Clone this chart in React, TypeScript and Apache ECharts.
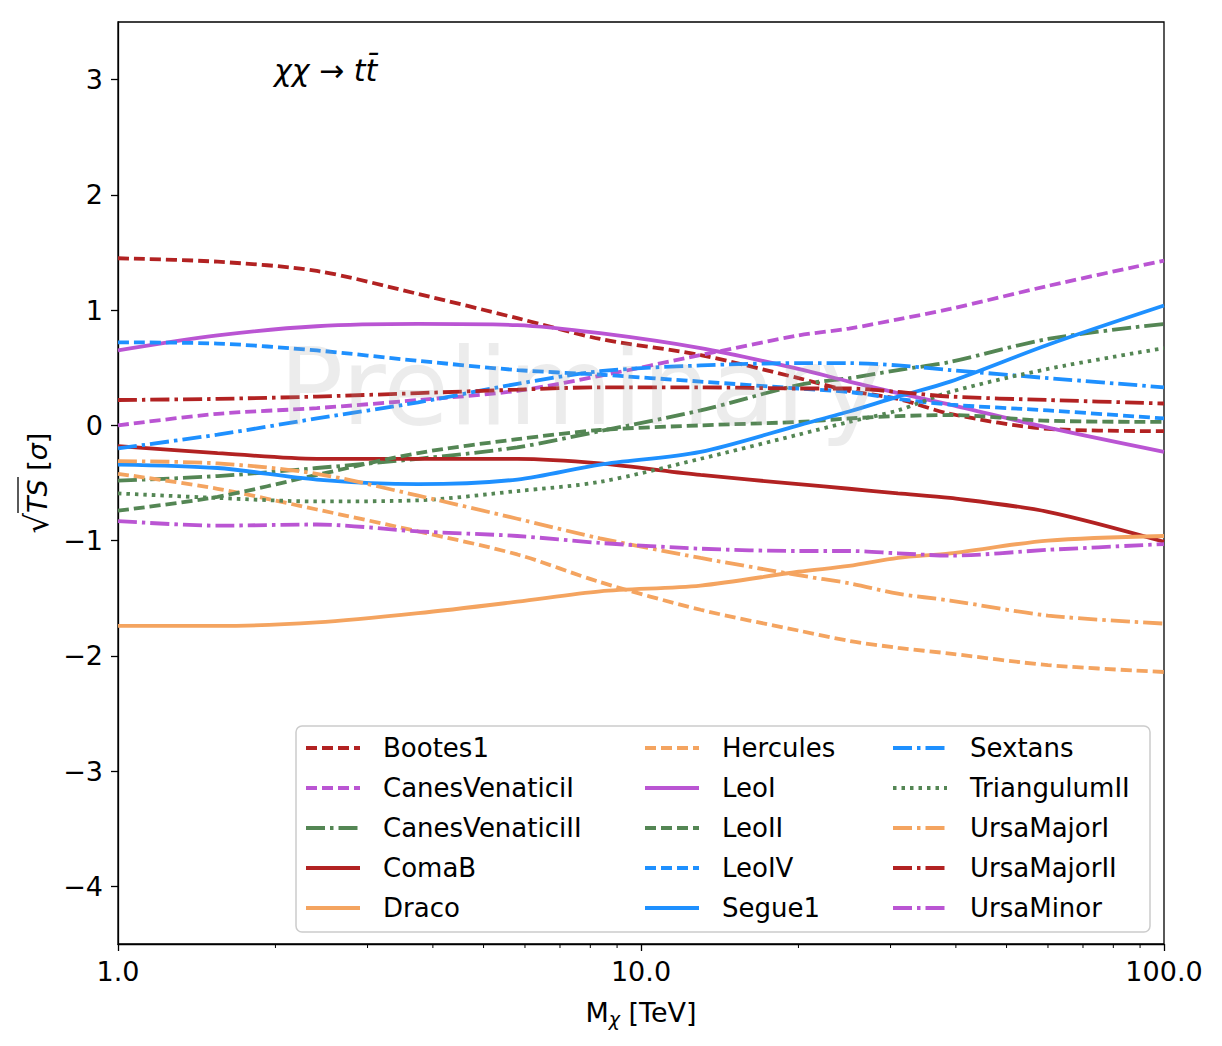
import React, { useEffect, useRef } from "react";
import * as echarts from "echarts";

const MASSES = [1, 1.55, 2.4, 3.75, 5.8, 8.35, 13, 20, 25, 31, 39, 60, 100];

const bootes1 = [1.45, 1.42, 1.34, 1.14, 0.93, 0.75, 0.61, 0.41, 0.3, 0.23, 0.1, -0.03, -0.05];
const canesVenaticiI = [0.0, 0.1, 0.15, 0.22, 0.3, 0.43, 0.61, 0.78, 0.84, 0.92, 1.01, 1.21, 1.43];
const canesVenaticiII = [-0.48, -0.44, -0.37, -0.29, -0.19, -0.05, 0.13, 0.35, 0.41, 0.48, 0.55, 0.75, 0.88];
const comaB = [-0.18, -0.24, -0.29, -0.29, -0.29, -0.33, -0.43, -0.51, -0.55, -0.59, -0.63, -0.75, -1.01];
const draco = [-1.74, -1.74, -1.71, -1.63, -1.53, -1.44, -1.39, -1.27, -1.22, -1.15, -1.11, -1.0, -0.96];
const hercules = [-0.42, -0.55, -0.73, -0.92, -1.12, -1.36, -1.6, -1.78, -1.87, -1.93, -1.98, -2.08, -2.14];
const leoI = [0.65, 0.78, 0.86, 0.88, 0.87, 0.8, 0.67, 0.49, 0.38, 0.28, 0.18, -0.02, -0.23];
const leoII = [-0.74, -0.62, -0.43, -0.24, -0.12, -0.04, 0.0, 0.03, 0.06, 0.08, 0.09, 0.04, 0.03];
const leoIV = [0.72, 0.71, 0.65, 0.56, 0.48, 0.44, 0.38, 0.32, 0.29, 0.23, 0.18, 0.13, 0.06];
const segue1 = [-0.34, -0.37, -0.47, -0.51, -0.47, -0.34, -0.23, 0.0, 0.12, 0.25, 0.38, 0.7, 1.04];
const sextans = [-0.2, -0.08, 0.06, 0.2, 0.36, 0.47, 0.52, 0.54, 0.54, 0.52, 0.48, 0.41, 0.33];
const triangulumII = [-0.59, -0.63, -0.66, -0.65, -0.57, -0.49, -0.29, -0.08, 0.03, 0.13, 0.29, 0.49, 0.67];
const ursaMajorI = [-0.31, -0.33, -0.42, -0.61, -0.81, -0.98, -1.15, -1.3, -1.37, -1.46, -1.52, -1.65, -1.72];
const ursaMajorII = [0.22, 0.23, 0.25, 0.28, 0.31, 0.33, 0.33, 0.32, 0.32, 0.29, 0.25, 0.22, 0.19];
const ursaMinor = [-0.83, -0.87, -0.86, -0.92, -0.96, -1.02, -1.07, -1.09, -1.09, -1.11, -1.13, -1.08, -1.03];

const MINOR_TICKS = [2, 3, 4, 5, 6, 7, 8, 9, 20, 30, 40, 50, 60, 70, 80, 90];

const RED = "#B22222";
const PURPLE = "#BA55D3";
const GREEN = "#548654";
const ORANGE = "#F4A460";
const BLUE = "#1E90FF";

const DASHED = [11, 5];
const DASHDOT = [19, 5, 3.5, 5];
const DOTTED = [3.5, 5];

const SERIES_DEFS: [string, number[], string, any][] = [
  ["Bootes1", bootes1, RED, DASHED],
  ["CanesVenaticiI", canesVenaticiI, PURPLE, DASHED],
  ["CanesVenaticiII", canesVenaticiII, GREEN, DASHDOT],
  ["ComaB", comaB, RED, "solid"],
  ["Draco", draco, ORANGE, "solid"],
  ["Hercules", hercules, ORANGE, DASHED],
  ["LeoI", leoI, PURPLE, "solid"],
  ["LeoII", leoII, GREEN, DASHED],
  ["LeoIV", leoIV, BLUE, DASHED],
  ["Segue1", segue1, BLUE, "solid"],
  ["Sextans", sextans, BLUE, DASHDOT],
  ["TriangulumII", triangulumII, GREEN, DOTTED],
  ["UrsaMajorI", ursaMajorI, ORANGE, DASHDOT],
  ["UrsaMajorII", ursaMajorII, RED, DASHDOT],
  ["UrsaMinor", ursaMinor, PURPLE, DASHDOT],
];

const FONT = "DejaVu Sans";
const LINE_W = 3.8;

// legend layout
const LEG_COLS = [306, 645, 893];
const LEG_TOP = 734;
const LEG_ROW = 40;

export default function App() {
  const ref = useRef<HTMLDivElement>(null);

  useEffect(() => {
    if (!ref.current) return;
    const chart = echarts.init(ref.current, null, { renderer: "svg" });

    const lineSeries = SERIES_DEFS.map(([name, vals, color, type]) => ({
      name,
      type: "line",
      data: MASSES.map((m, i) => [m, vals[i]]),
      showSymbol: false,
      symbol: "none",
      smooth: 0.3,
      z: 2,
      lineStyle: { color, width: LINE_W, type, cap: "butt" },
      itemStyle: { color },
      emphasis: { disabled: true },
    }));

    const legendNames = SERIES_DEFS.map((d) => d[0]);
    const mkLegend = (names: string[], left: number) => ({
      orient: "vertical",
      left,
      top: LEG_TOP,
      padding: 0,
      itemGap: 12,
      itemWidth: 54,
      itemHeight: 14,
      selectedMode: false,
      icon: "rect",
      itemStyle: { opacity: 0 },
      lineStyle: { opacity: 0 },
      data: names,
      textStyle: {
        fontFamily: FONT,
        fontSize: 26,
        color: "#000",
        lineHeight: 28,
        padding: [0, 0, 0, 18],
      },
    });

    // legend icon samples (decoration drawn over the invisible legend icons)
    const legendIcons = SERIES_DEFS.map(([, , color, type], i) => {
      const col = Math.floor(i / 5);
      const row = i % 5;
      const y = LEG_TOP + 14 + row * LEG_ROW;
      const x = LEG_COLS[col];
      return {
        type: "line",
        z: 10,
        silent: true,
        shape: { x1: x, y1: y, x2: x + 54, y2: y },
        style: {
          stroke: color,
          lineWidth: LINE_W,
          lineDash: type === "solid" ? null : type,
          lineCap: "butt",
        },
      };
    });

    const option: any = {
      animation: false,
      backgroundColor: "#fff",
      grid: {
        left: 118,
        right: 58,
        top: 22,
        bottom: 102,
        show: true,
        borderColor: "#000",
        borderWidth: 1.3,
        backgroundColor: "transparent",
      },
      xAxis: {
        type: "log",
        logBase: 10,
        min: 1,
        max: 100,
        axisLine: { show: true, onZero: false, lineStyle: { color: "#000", width: 1.3 } },
        axisTick: { show: true, length: 7, lineStyle: { color: "#000", width: 1.3 } },
        minorTick: { show: false },
        splitLine: { show: false },
        axisLabel: {
          fontFamily: FONT,
          fontSize: 27,
          color: "#000",
          margin: 14,
          formatter: (v: number) => v.toFixed(1),
        },
        name: "M{sub|χ} [TeV]",
        nameLocation: "middle",
        nameGap: 53,
        nameTextStyle: {
          fontFamily: FONT,
          fontSize: 27,
          color: "#000",
          rich: {
            sub: { fontFamily: FONT, fontSize: 19, fontStyle: "italic", color: "#000", padding: [12, 0, 0, 0] },
          },
        },
      },
      yAxis: {
        type: "value",
        min: -4.5,
        max: 3.5,
        splitNumber: 8,
        axisLine: { show: true, onZero: false, lineStyle: { color: "#000", width: 1.3 } },
        axisTick: { show: true, length: 7, lineStyle: { color: "#000", width: 1.3 } },
        splitLine: { show: false },
        axisLabel: {
          fontFamily: FONT,
          fontSize: 27,
          color: "#000",
          margin: 15,
          showMinLabel: false,
          showMaxLabel: false,
          formatter: (v: number) => (v < 0 ? "\u2212" + Math.abs(v) : String(v)),
        },
      },
      legend: [
        mkLegend(legendNames.slice(0, 5), LEG_COLS[0]),
        mkLegend(legendNames.slice(5, 10), LEG_COLS[1]),
        mkLegend(legendNames.slice(10, 15), LEG_COLS[2]),
      ],
      graphic: [
        {
          type: "rect",
          z: 3,
          shape: { x: 296, y: 726, width: 854, height: 206, r: 6 },
          style: { fill: "rgba(255,255,255,0.85)", stroke: "#cccccc", lineWidth: 1.5 },
        },
        ...legendIcons,
        {
          type: "text",
          z: 5,
          silent: true,
          x: 279,
          y: 333,
          style: {
            text: "Preliminary",
            fontFamily: FONT,
            fontSize: 107,
            fill: "rgba(160,160,160,0.2)",
            verticalAlign: "top",
            align: "left",
          },
        },
        {
          type: "text",
          z: 5,
          x: 274,
          y: 70,
          style: {
            text: "{i|χχ}{n| → }{i|tt̄}",
            verticalAlign: "middle",
            align: "left",
            rich: {
              i: { fontFamily: FONT, fontSize: 30, fontStyle: "italic", fill: "#000" },
              n: { fontFamily: FONT, fontSize: 30, fill: "#000" },
            },
          },
        },
        {
          type: "group",
          x: 37,
          y: 483,
          rotation: Math.PI / 2,
          children: [
            {
              type: "text",
              x: 0,
              y: 0,
              style: {
                text: "{r|√}{i|TS}{n| [}{i|σ}{n|]}",
                align: "center",
                verticalAlign: "middle",
                rich: {
                  r: { fontFamily: FONT, fontSize: 32, fill: "#000" },
                  i: { fontFamily: FONT, fontSize: 27, fontStyle: "italic", fill: "#000" },
                  n: { fontFamily: FONT, fontSize: 27, fill: "#000" },
                },
              },
            },
            {
              type: "line",
              shape: { x1: -30, y1: -19, x2: 6, y2: -19 },
              style: { stroke: "#000", lineWidth: 1.3 },
            },
          ],
        },
      ],
      series: [
        ...lineSeries,
        {
          type: "custom",
          name: "minorTicks",
          silent: true,
          clip: false,
          z: 6,
          data: MINOR_TICKS.map((m) => [m, -4.5]),
          encode: { x: 0, y: 1 },
          renderItem: (_params: any, api: any) => {
            const p = api.coord([api.value(0), api.value(1)]);
            return {
              type: "line",
              shape: { x1: p[0], y1: p[1], x2: p[0], y2: p[1] + 4 },
              style: { stroke: "#000", lineWidth: 1 },
            };
          },
        },
      ],
    };

    chart.setOption(option);
    return () => chart.dispose();
  }, []);

  return (
    <div
      ref={ref}
      style={{ position: "fixed", left: 0, top: 0, width: 1222, height: 1046, background: "#fff" }}
    />
  );
}
